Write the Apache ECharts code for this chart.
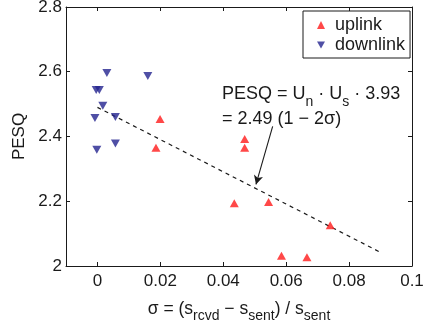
<!DOCTYPE html>
<html>
<head>
<meta charset="utf-8">
<script src="https://cdn.jsdelivr.net/npm/echarts@6/dist/echarts.min.js"></script>
<style>
  html, body { margin: 0; background: #fff; }
  #chart { width: 424px; height: 322px; }
</style>
</head>
<body>
<div id="chart"></div>
<script>
// values
const uplink = [
  [0.0199, 2.454], [0.0186, 2.365], [0.0468, 2.392], [0.0468, 2.365],
  [0.0435, 2.194], [0.0544, 2.198], [0.0740, 2.126], [0.0585, 2.032],
  [0.0666, 2.027]
];
const downlink = [
  [0.0030, 2.596], [0.0160, 2.587], [-0.0004, 2.544], [0.0006, 2.544],
  [0.0017, 2.495], [-0.0008, 2.457], [0.0057, 2.460], [-0.0002, 2.359],
  [0.0057, 2.378]
];
const fitLine = [[0, 2.49], [0.09, 2.042]];
const arrowFrom = [0.0557, 2.431];
const arrowTo = [0.0504, 2.252];
const xTicks = [0, 0.02, 0.04, 0.06, 0.08, 0.1];
const yTicks = [2, 2.2, 2.4, 2.6, 2.8];

const FONT = "'Liberation Sans', Arial, sans-serif";
const INK = '#1a1a1a';
const RED = '#ff1a1a';
const BLUE = '#23238f';

const chart = echarts.init(document.getElementById('chart'), null, { renderer: 'canvas' });

const boxAxisLine = { onZero: false, lineStyle: { color: INK, width: 1 } };

const option = {
  animation: false,
  backgroundColor: '#fff',
  textStyle: { fontFamily: FONT, color: INK },
  grid: { left: 66, right: 12, top: 7, bottom: 56, outerBoundsMode: 'none', containLabel: false },
  legend: {
    orient: 'vertical',
    left: 303,
    top: 11,
    padding: [5, 5, 4, 14],
    backgroundColor: '#fff',
    borderColor: INK,
    borderWidth: 1,
    borderRadius: 0,
    itemWidth: 8,
    itemHeight: 8,
    itemGap: 2,
    textStyle: { fontFamily: FONT, fontSize: 18, color: INK, padding: [0, 0, 0, 5] },
    data: [
      { name: 'uplink', icon: 'triangle' },
      { name: 'downlink', icon: 'path://M0,0L10,0L5,9Z' }
    ]
  },
  xAxis: [
    {
      type: 'value', min: -0.01, max: 0.1,
      axisLine: boxAxisLine,
      axisTick: { inside: true, length: 4, customValues: xTicks, lineStyle: { color: INK } },
      axisLabel: { customValues: xTicks, fontFamily: FONT, fontSize: 17, color: INK, margin: 7 },
      splitLine: { show: false },
      name: 'σ = (s{sub|rcvd} − s{sub|sent}) / s{sub|sent}',
      nameLocation: 'middle',
      nameGap: 26,
      nameTextStyle: {
        fontFamily: FONT, fontSize: 17.5, color: INK, lineHeight: 20, verticalAlign: 'top',
        rich: { sub: { fontFamily: FONT, fontSize: 14, color: INK, lineHeight: 14, padding: [14, 0, 0, 0] } }
      }
    },
    {
      type: 'value', min: -0.01, max: 0.1, position: 'top',
      axisLine: boxAxisLine,
      axisTick: { inside: true, length: 4, customValues: xTicks, lineStyle: { color: INK } },
      axisLabel: { show: false },
      splitLine: { show: false }
    }
  ],
  yAxis: [
    {
      type: 'value', min: 2, max: 2.8,
      axisLine: boxAxisLine,
      axisTick: { inside: true, length: 4, customValues: yTicks, lineStyle: { color: INK } },
      axisLabel: { customValues: yTicks, fontFamily: FONT, fontSize: 17, color: INK, margin: 4 },
      splitLine: { show: false },
      name: 'PESQ',
      nameLocation: 'middle',
      nameGap: 26,
      nameTextStyle: { fontFamily: FONT, fontSize: 17, color: INK }
    },
    {
      type: 'value', min: 2, max: 2.8, position: 'right',
      axisLine: boxAxisLine,
      axisTick: { inside: true, length: 4, customValues: yTicks, lineStyle: { color: INK } },
      axisLabel: { show: false },
      splitLine: { show: false }
    }
  ],
  series: [
    {
      name: 'fit',
      type: 'line',
      data: fitLine,
      symbol: 'none',
      lineStyle: { color: INK, width: 1.2, type: [4, 4] },
      z: 1,
      markLine: {
        silent: true,
        symbol: ['none', 'arrow'],
        symbolSize: [7, 9],
        label: { show: false },
        lineStyle: { color: INK, width: 1.1, type: 'solid' },
        data: [[{ coord: arrowFrom }, { coord: arrowTo }]]
      }
    },
    {
      name: 'uplink',
      type: 'scatter',
      data: uplink,
      symbol: 'triangle',
      symbolSize: [9, 8],
      itemStyle: { color: RED },
      z: 3
    },
    {
      name: 'downlink',
      type: 'scatter',
      data: downlink,
      symbol: 'triangle',
      symbolRotate: 180,
      symbolSize: [9, 8],
      itemStyle: { color: BLUE },
      z: 3
    }
  ],
  graphic: [
    {
      type: 'text',
      left: 222,
      top: 79,
      style: {
        text: 'PESQ = U{sub|n} · U{sub|s} · 3.93',
        font: '18px ' + FONT,
        fill: INK,
        lineHeight: 22,
        rich: { sub: { font: '14px ' + FONT, fill: INK, lineHeight: 14, padding: [16, 0, 0, 0] } }
      }
    },
    {
      type: 'text',
      left: 222,
      top: 110,
      style: {
        text: '= 2.49 (1 − 2σ)',
        font: '18px ' + FONT,
        fill: INK
      }
    }
  ]
};

chart.setOption(option);
</script>
</body>
</html>
